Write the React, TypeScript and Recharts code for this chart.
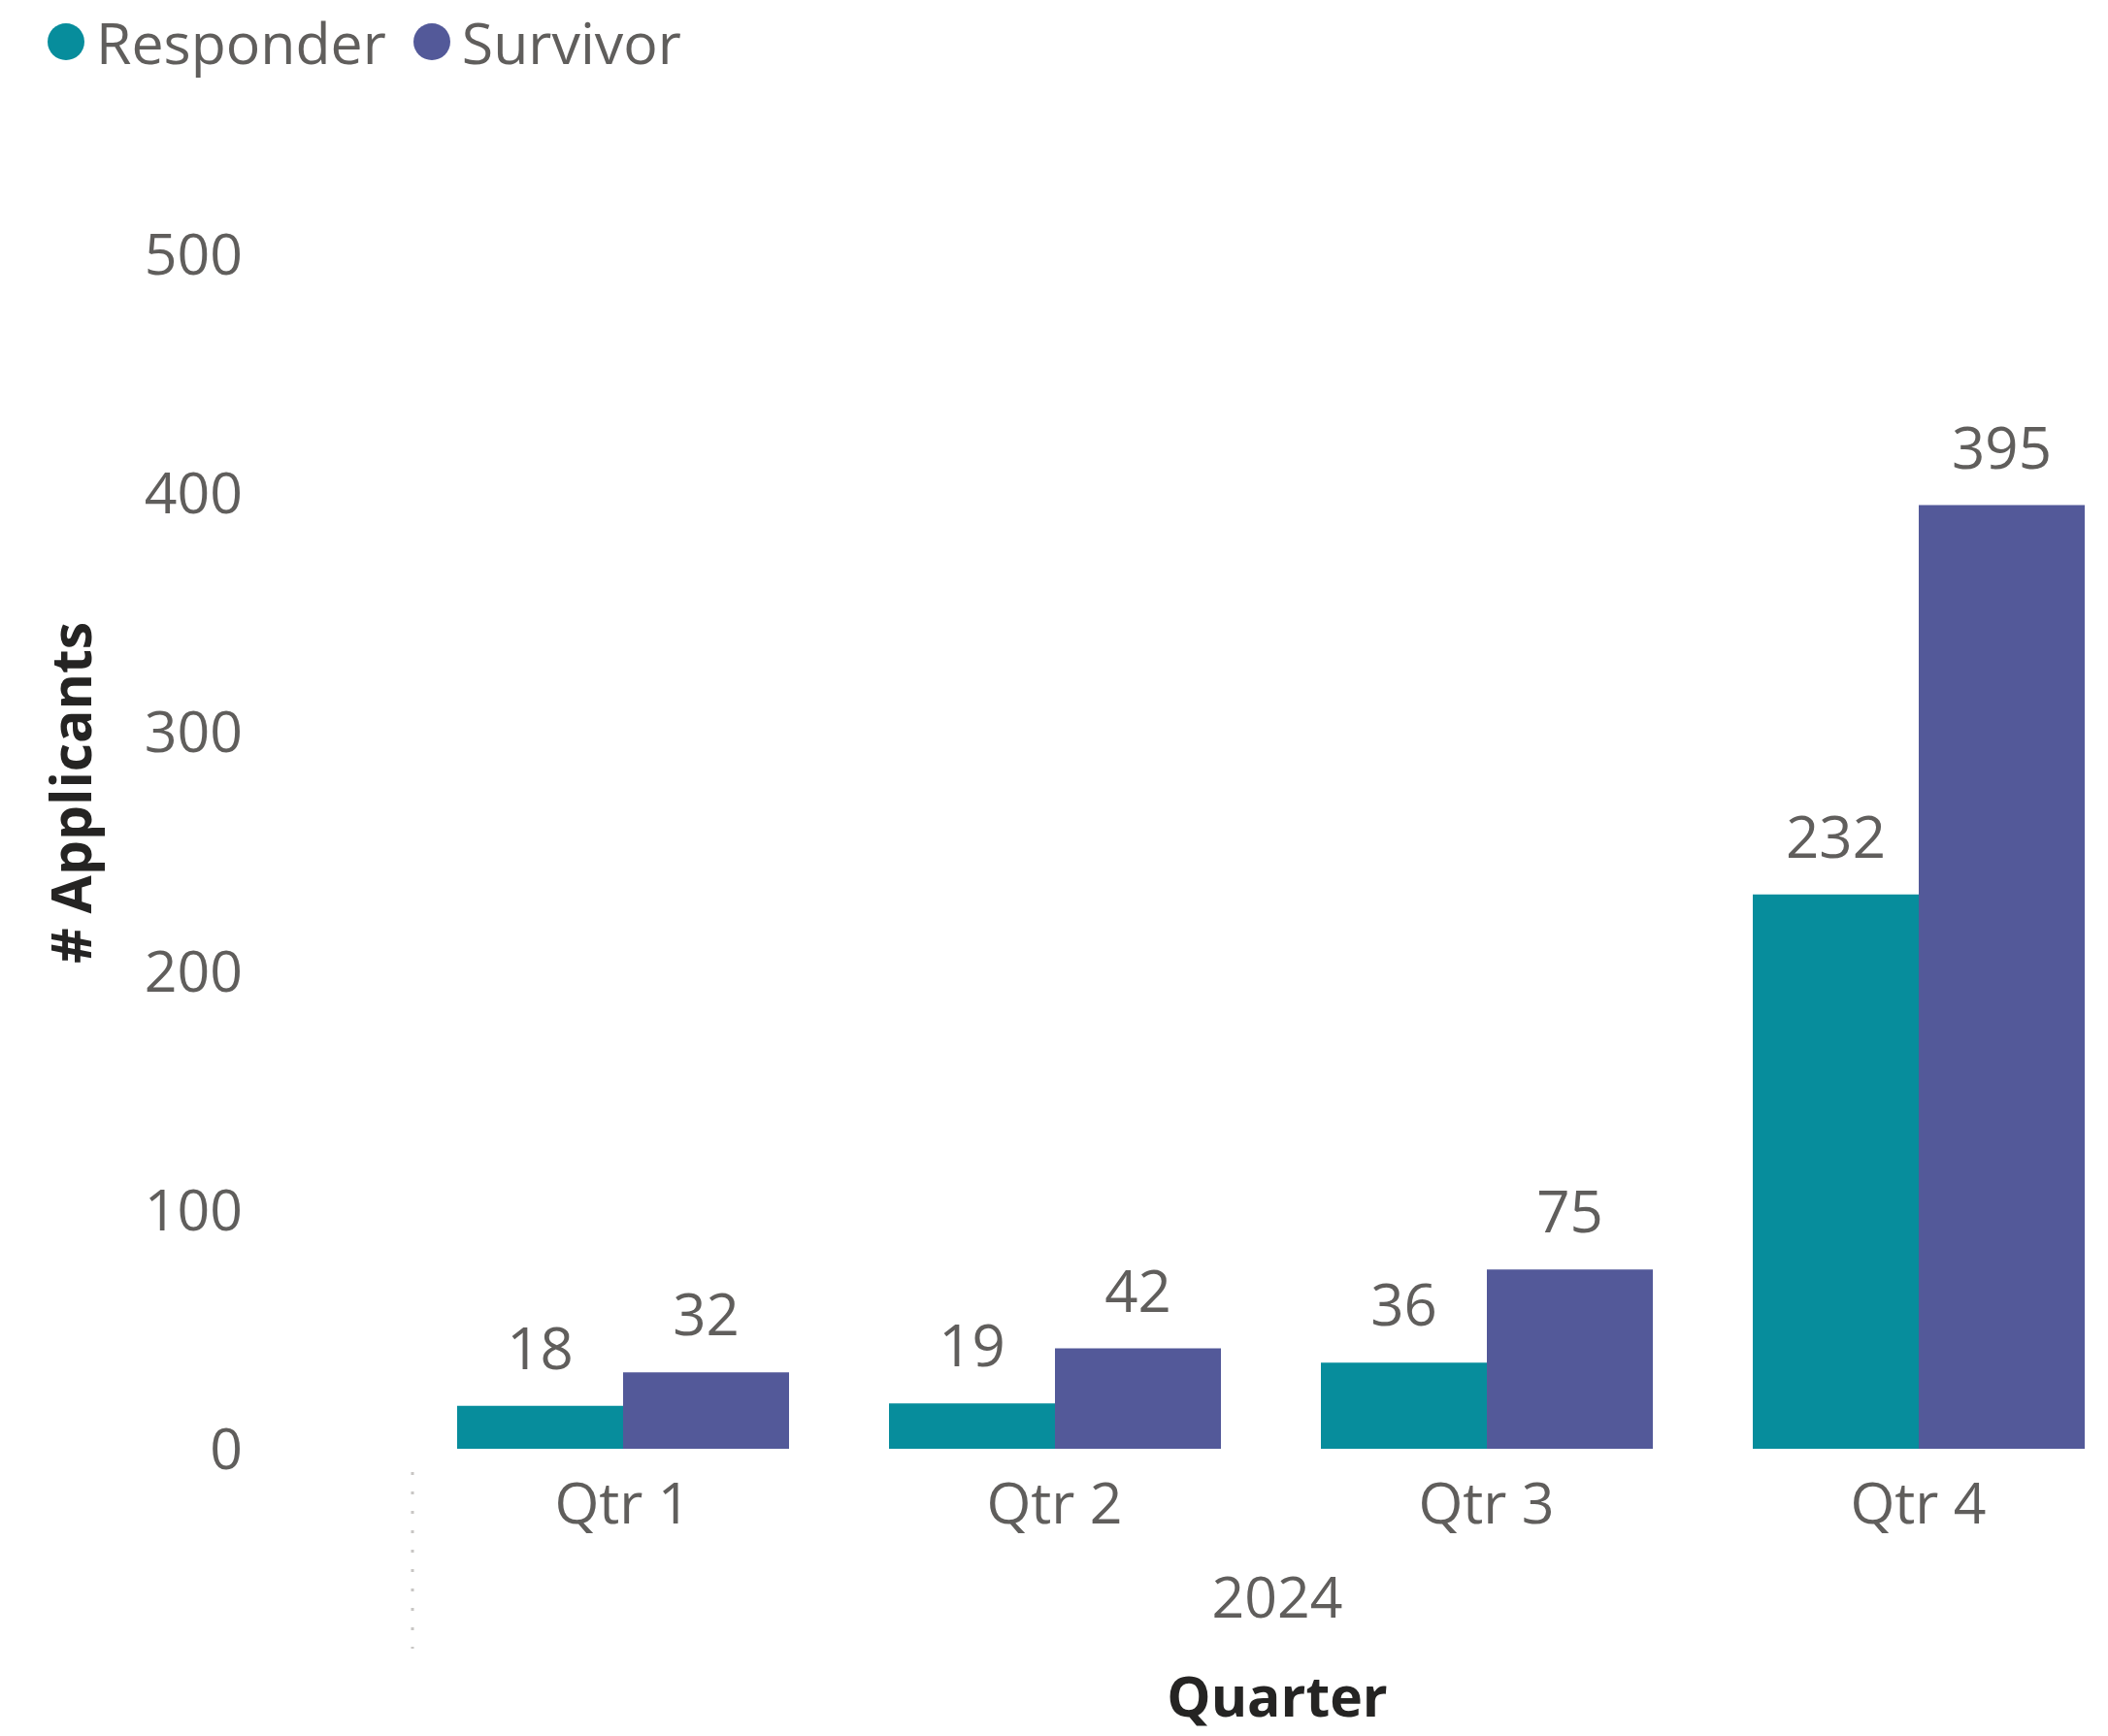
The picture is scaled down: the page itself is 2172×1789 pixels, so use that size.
import React from 'react';
import { BarChart, Bar, XAxis, YAxis, Legend, LabelList } from 'recharts';

const categories = ['Qtr 1', 'Qtr 2', 'Qtr 3', 'Qtr 4'];
const responderValues = [18, 19, 36, 232];
const survivorValues = [32, 42, 75, 395];
const yTicks = [0, 100, 200, 300, 400, 500];
const yearLabel = '2024';
const xTitle = 'Quarter';
const yTitle = '# Applicants';

const TEAL = '#078D9C';
const PURPLE = '#535999';
const GRAY = '#605E5C';
const DARK = '#252423';
const FONT = "'Segoe UI', 'Open Sans', sans-serif";

const data = categories.map((c, i) => ({
  quarter: c,
  Responder: responderValues[i],
  Survivor: survivorValues[i],
}));

const renderValueLabel = (props: any) => {
  const { x, y, width, value } = props;
  return (
    <text
      x={Number(x) + Number(width) / 2}
      y={Number(y) - 38}
      textAnchor="middle"
      fontSize={60}
      fill={GRAY}
      fontFamily={FONT}
    >
      {value}
    </text>
  );
};

const renderLegend = (props: any) => {
  const { payload } = props;
  return (
    <div style={{ display: 'flex', alignItems: 'center', paddingLeft: 49, height: 86, fontFamily: FONT }}>
      {(payload || []).map((p: any) => (
        <div key={p.value} style={{ display: 'flex', alignItems: 'center', marginRight: 28 }}>
          <span
            style={{
              display: 'inline-block',
              width: 38,
              height: 38,
              borderRadius: '50%',
              background: p.color,
              marginRight: 12,
            }}
          />
          <span style={{ fontSize: 59, color: GRAY, lineHeight: '86px' }}>{p.value}</span>
        </div>
      ))}
    </div>
  );
};

const renderXTitle = (props: any) => {
  const { viewBox } = props;
  const cx = viewBox.x + viewBox.width / 2 + 7;
  const top = viewBox.y;
  return (
    <g>
      <line
        x1={viewBox.x + 6}
        x2={viewBox.x + 6}
        y1={top + 24}
        y2={top + 206}
        stroke="#C8C6C4"
        strokeWidth={3}
        strokeDasharray="3 17"
      />
      <text x={cx} y={top + 174} textAnchor="middle" fontSize={59} fill={GRAY} fontFamily={FONT}>
        {yearLabel}
      </text>
      <text x={cx} y={top + 276} textAnchor="middle" fontSize={57} fontWeight={700} fill={DARK} fontFamily={FONT}>
        {xTitle}
      </text>
    </g>
  );
};

const renderYTitle = (props: any) => {
  const { viewBox } = props;
  const x = viewBox.x + 72;
  const y = 817;
  return (
    <text
      x={x}
      y={y}
      transform={`rotate(-90 ${x} ${y})`}
      textAnchor="middle"
      dominantBaseline="central"
      fontSize={57}
      fontWeight={700}
      fill={DARK}
      fontFamily={FONT}
    >
      {yTitle}
    </text>
  );
};

export default function App() {
  return (
    <div style={{ position: 'absolute', left: 0, top: 0, width: 2172, height: 1789, overflow: 'hidden', background: '#fff' }}>
      <BarChart
        width={2210}
        height={1789}
        data={data}
        margin={{ top: 262, right: 11, bottom: 0, left: 0 }}
        barCategoryGap={52}
        barGap={0}
        style={{ fontFamily: FONT }}
      >
        <Legend
          layout="vertical"
          align="center"
          verticalAlign="middle"
          content={renderLegend}
          wrapperStyle={{ top: 0, left: 0, width: 'auto' }}
        />
        <XAxis
          dataKey="quarter"
          axisLine={false}
          tickLine={false}
          tickSize={0}
          tickMargin={35}
          height={296}
          tick={{ fontSize: 59, fill: GRAY, fontFamily: FONT }}
          label={{ content: renderXTitle }}
          interval={0}
        />
        <YAxis
          domain={[0, 500]}
          ticks={yTicks}
          axisLine={false}
          tickLine={false}
          tickSize={0}
          tickMargin={169}
          width={419}
          tick={{ fontSize: 59, fill: GRAY, fontFamily: FONT }}
          label={{ content: renderYTitle }}
          allowDataOverflow
        />
        <Bar dataKey="Responder" fill={TEAL} isAnimationActive={false}>
          <LabelList dataKey="Responder" content={renderValueLabel} />
        </Bar>
        <Bar dataKey="Survivor" fill={PURPLE} isAnimationActive={false}>
          <LabelList dataKey="Survivor" content={renderValueLabel} />
        </Bar>
      </BarChart>
    </div>
  );
}
